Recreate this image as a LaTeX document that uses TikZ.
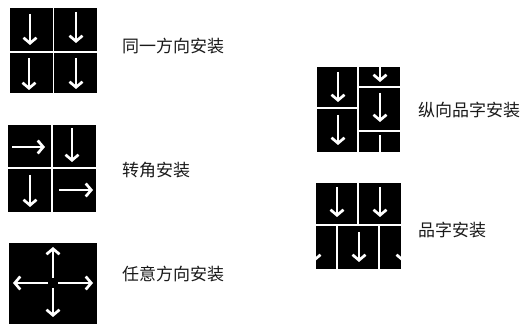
\documentclass[tikz,border=0pt]{standalone}
\usepackage{fontspec}
\newfontfamily\cjk{Noto Sans CJK SC}
\usetikzlibrary{arrows.meta}
\begin{document}
\begin{tikzpicture}[x=1pt,y=-1pt,
 panel/.style={fill=black},
 divider/.style={draw=white,line width=1.6pt},
 warrow/.style={draw=white,line width=2.7pt,-{Straight Barb[length=5.5pt,width=13pt]}},
 wline/.style={draw=white,line width=2.7pt},
 lbl/.style={anchor=west,font=\cjk\fontsize{17}{20}\selectfont,text=black!90,inner sep=0pt}]
\useasboundingbox (0,0) rectangle (531,326);
% Panel 1
\fill[panel] (10,8) rectangle (97,93);
\draw[divider] (53.5,8) -- (53.5,93);
\draw[divider] (10,52) -- (97,52);
\draw[warrow] (30,14) -- (30,45);
\draw[warrow] (76,12) -- (76,43);
\draw[warrow] (29,58) -- (29,90);
\draw[warrow] (76,58) -- (76,89);
\node[lbl] (t1) at (122,46) {同一方向安装};
% Panel 2
\fill[panel] (8,125) rectangle (96,212);
\draw[divider] (52,125) -- (52,212);
\draw[divider] (8,168) -- (96,168);
\draw[warrow] (12,147) -- (45,147);
\draw[warrow] (72,128) -- (72,162);
\draw[warrow] (30,175) -- (30,207);
\draw[warrow] (59,190) -- (93,190);
\node[lbl] (t2) at (122,170) {转角安装};
% Panel 3
\fill[panel] (9,243) rectangle (97,324);
\draw[warrow] (53,278) -- (53,247);
\draw[warrow] (48,283) -- (13,283);
\draw[warrow] (58,283) -- (93,283);
\draw[warrow] (53,288) -- (53,317);
\node[lbl] (t3) at (122,274) {任意方向安装};
% Panel 4
\fill[panel] (317,67) rectangle (400,152);
\draw[divider] (358,67) -- (358,152);
\draw[divider] (317,108) -- (358,108);
\draw[divider] (358,87) -- (400,87);
\draw[divider] (358,131) -- (400,131);
\draw[warrow] (338,72) -- (338,102);
\draw[warrow] (338,115) -- (338,145);
\draw[warrow] (380,67) -- (380,82);
\draw[warrow] (380,93) -- (380,122);
\draw[wline] (380,135) -- (380,152);
\node[lbl] (t4) at (418,110) {纵向品字安装};
% Panel 5
\fill[panel] (316,183) rectangle (401,269);
\draw[divider] (358,183) -- (358,225);
\draw[divider] (316,225) -- (401,225);
\draw[divider] (337,225) -- (337,269);
\draw[divider] (379,225) -- (379,269);
\draw[warrow] (337,187) -- (337,217);
\draw[warrow] (380,187) -- (380,217);
\draw[warrow] (359,232) -- (359,262);
\begin{scope}
\clip (316,183) rectangle (401,269);
\draw[warrow] (314,232) -- (314,262);
\draw[warrow] (403,232) -- (403,262);
\end{scope}
\node[lbl] (t5) at (418,230) {品字安装};
\end{tikzpicture}
\end{document}
